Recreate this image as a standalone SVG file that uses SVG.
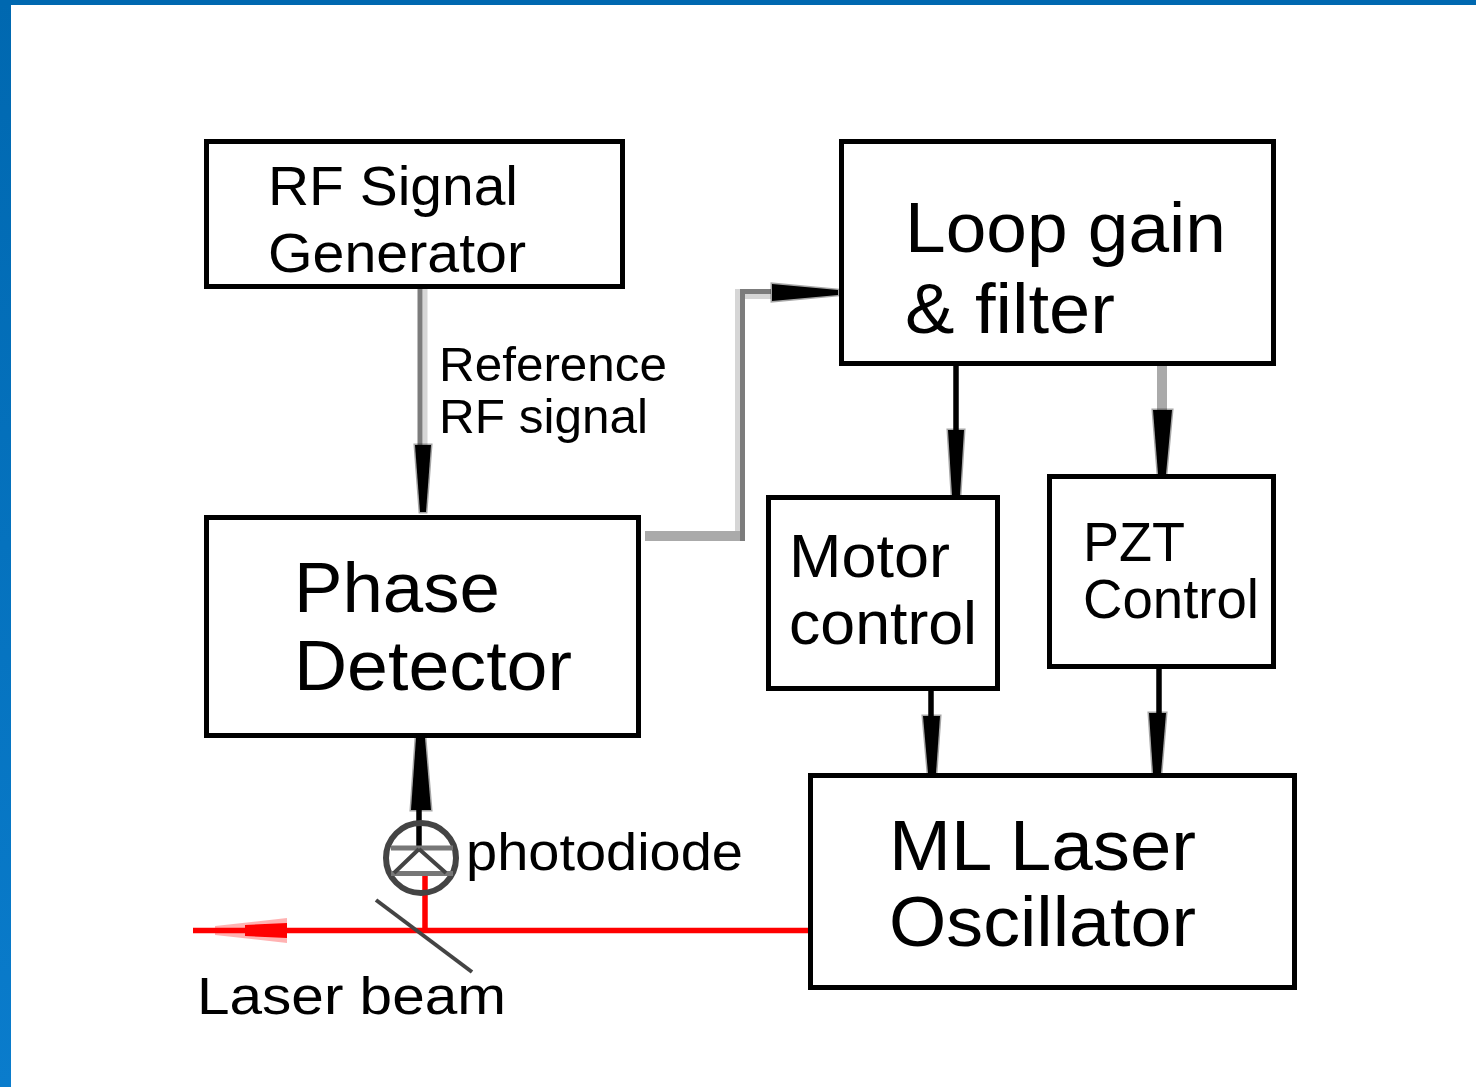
<svg xmlns="http://www.w3.org/2000/svg" width="1476" height="1087" viewBox="0 0 1476 1087">
<style>
.box{fill:#fff;stroke:#000;stroke-width:5}
.t{font-family:"Liberation Sans",Arial,sans-serif;fill:#000}
.k{fill:none;stroke:#000;stroke-width:5.5}
.g{fill:none;stroke:#aaa;stroke-width:10}
.gd{fill:none;stroke:#7c7c7c;stroke-width:5}
.gl{fill:none;stroke:#d6d6d6;stroke-width:5}
.r{fill:none;stroke:#f00;stroke-width:5.5}
.h{fill:#000;stroke:#000;stroke-opacity:.35;stroke-width:3}
</style>
<defs><linearGradient id="edge" x1="0" y1="0" x2="0" y2="1"><stop offset="0" stop-color="#0068b0"/><stop offset="1" stop-color="#0a7ccc"/></linearGradient></defs>
<rect width="1476" height="1087" fill="#fff"/>
<rect id="frame-left" x="0" y="0" width="11" height="1087" fill="url(#edge)"/>
<rect id="frame-top" x="0" y="0" width="1476" height="5" fill="#0068b0"/>
<g id="connectors">
<path class="gl" d="M425 288V445"/><path class="gd" d="M420 288V445"/><polygon class="h" points="415,445 431,445 426,512 420,512"/>
<path class="gl" d="M737.500 536V289M745 296.500H771"/><path class="g" d="M645 536H745"/><path class="gd" d="M742.500 541V291.500H771"/><polygon class="h" points="772,284 772,301 838,295 838,290"/>
<path class="k" d="M956 365V430"/><polygon class="h" points="948,430 964,430 960,495 952,495"/>
<path class="g" d="M1162 365V410"/><polygon class="h" points="1153,410 1172,410 1166,474 1158,474"/>
<path class="k" d="M931 690V716"/><polygon class="h" points="923,716 940,716 936,773 928,773"/>
<path class="k" d="M1159 668V713"/><polygon class="h" points="1149,713 1166,713 1161,773 1153,773"/>
<path class="k" d="M419 736V848"/><polygon class="h" points="416,738 425,738 431,810 411,810"/>
<path class="r" d="M193 930.500H808M425 873V932"/>
<polygon points="287,918 287,943 215,935 215,926" fill="#f00" fill-opacity=".3"/><polygon points="287,923 287,938 245,936 245,925" fill="#f00"/>
<path d="M376 900L472 972" fill="none" stroke="#444" stroke-width="4"/>
</g>
<g id="photodiode" fill="none" stroke="#444">
<circle cx="421" cy="858" r="35" stroke-width="6"/>
<path d="M391 848H453M391 873.500H453" stroke="#777" stroke-width="5"/>
<path d="M419 849L394 873M419 849L446 873" stroke-width="4"/>
</g>
<g id="rf-generator"><rect class="box" x="206.500" y="141.500" width="416" height="145"/>
<text class="t" font-size="56" x="268" y="205" textLength="250" lengthAdjust="spacingAndGlyphs">RF Signal</text><text class="t" font-size="56" x="268" y="272" textLength="258" lengthAdjust="spacingAndGlyphs">Generator</text></g>
<g id="loop-gain"><rect class="box" x="841.500" y="141.500" width="432" height="222"/>
<text class="t" font-size="71" x="905" y="252" textLength="321" lengthAdjust="spacingAndGlyphs">Loop gain</text><text class="t" font-size="71" x="905" y="333" textLength="210" lengthAdjust="spacingAndGlyphs">&amp; filter</text></g>
<g id="phase-detector"><rect class="box" x="206.500" y="517.500" width="432" height="218"/>
<text class="t" font-size="71" x="294" y="612" textLength="206" lengthAdjust="spacingAndGlyphs">Phase</text><text class="t" font-size="71" x="294" y="690" textLength="278" lengthAdjust="spacingAndGlyphs">Detector</text></g>
<g id="motor-control"><rect class="box" x="768.500" y="497.500" width="229" height="191"/>
<text class="t" font-size="61" x="789" y="577" textLength="161" lengthAdjust="spacingAndGlyphs">Motor</text><text class="t" font-size="61" x="789" y="644" textLength="188" lengthAdjust="spacingAndGlyphs">control</text></g>
<g id="pzt-control"><rect class="box" x="1049.500" y="476.500" width="224" height="190"/>
<text class="t" font-size="56" x="1083" y="561" textLength="102" lengthAdjust="spacingAndGlyphs">PZT</text><text class="t" font-size="56" x="1083" y="618" textLength="176" lengthAdjust="spacingAndGlyphs">Control</text></g>
<g id="ml-laser"><rect class="box" x="810.500" y="775.500" width="484" height="212"/>
<text class="t" font-size="71" x="889" y="870" textLength="307" lengthAdjust="spacingAndGlyphs">ML Laser</text><text class="t" font-size="71" x="889" y="946" textLength="307" lengthAdjust="spacingAndGlyphs">Oscillator</text></g>
<g id="labels">
<text class="t" font-size="48" x="439" y="381" textLength="228" lengthAdjust="spacingAndGlyphs">Reference</text>
<text class="t" font-size="48" x="439" y="433" textLength="209" lengthAdjust="spacingAndGlyphs">RF signal</text>
<text class="t" font-size="51" x="466" y="870" textLength="277" lengthAdjust="spacingAndGlyphs">photodiode</text>
<text class="t" font-size="51" x="197" y="1014" textLength="309" lengthAdjust="spacingAndGlyphs">Laser beam</text>
</g>
</svg>
